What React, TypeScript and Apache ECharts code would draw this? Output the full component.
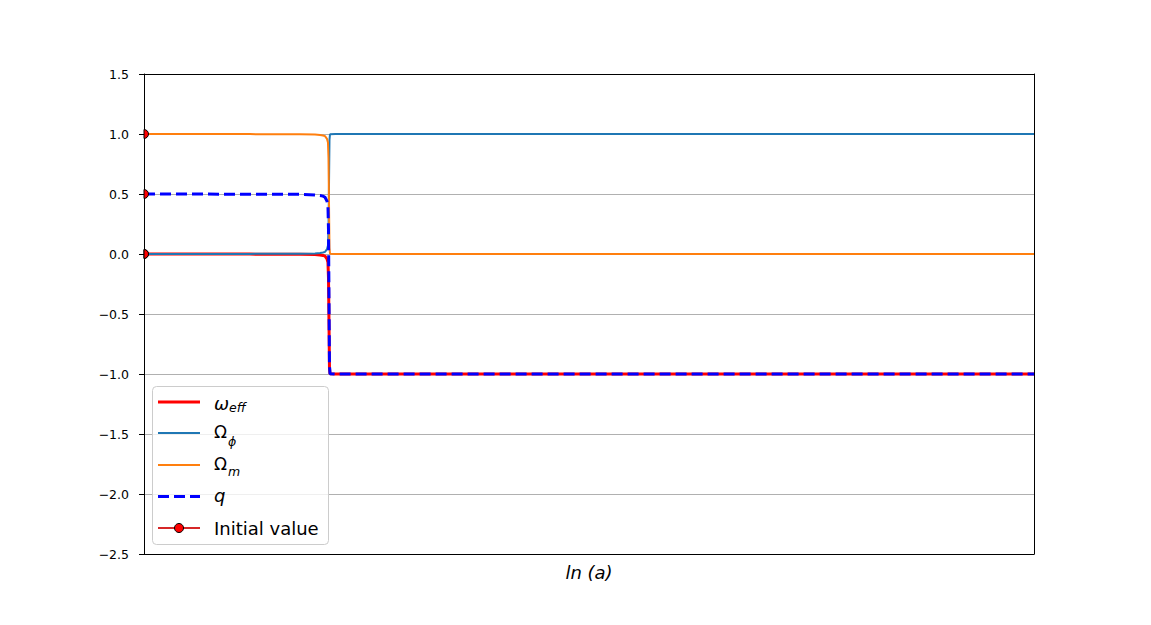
import React, { useEffect, useRef } from 'react';
import * as echarts from 'echarts';

// x values (ln a), arbitrary units — no tick labels are shown in the reference
const lnA = [0, 1.19, 1.753, 1.921, 1.978, 2.011, 2.034, 2.056, 2.067, 2.073, 2.079, 2.084, 2.09, 2.15, 10];
const omegaEff = [0, -0.001, -0.002, -0.005, -0.008, -0.012, -0.018, -0.04, -0.07, -0.2, -0.6, -0.95, -0.998, -1, -1];
const omegaPhi = [0, 0.001, 0.002, 0.005, 0.008, 0.012, 0.018, 0.04, 0.07, 0.2, 0.6, 0.95, 0.998, 1, 1];
const omegaM = [1.0, 0.999, 0.998, 0.995, 0.992, 0.988, 0.982, 0.96, 0.93, 0.8, 0.4, 0.05, 0.002, 0, 0];
const qVals = [0.5, 0.4985, 0.497, 0.4925, 0.488, 0.482, 0.473, 0.44, 0.395, 0.2, -0.4, -0.925, -0.997, -1, -1];
const initX = [0, 0, 0, 0];
const initY = [1.0, 0.5, 0.0, 0.0];
const yMin = -2.5;
const yMax = 1.5;
const yStep = 0.5;
const xMin = 0;
const xMax = 10;

const FONT = "'DejaVu Sans', sans-serif";

const pair = (xs: number[], ys: number[]) => xs.map((x, i) => [x, ys[i]]);

export default function App() {
  const ref = useRef<HTMLDivElement>(null);
  useEffect(() => {
    if (!ref.current) return;
    const chart = echarts.init(ref.current, undefined, { renderer: 'svg' });

    const rowY = [402, 433, 465, 496.5, 528];
    const lx0 = 158;
    const lx1 = 200;
    const tx = 214;
    const legendEls: any[] = [
      {
        type: 'rect',
        shape: { x: 152.5, y: 386.5, width: 176, height: 158, r: 4 },
        style: { fill: 'rgba(255,255,255,0.8)', stroke: '#cccccc', lineWidth: 1 },
        z: 100,
      },
      { type: 'line', shape: { x1: lx0, y1: rowY[0], x2: lx1, y2: rowY[0] }, style: { stroke: '#ff0000', lineWidth: 3 }, z: 101 },
      { type: 'line', shape: { x1: lx0, y1: rowY[1], x2: lx1, y2: rowY[1] }, style: { stroke: '#1f77b4', lineWidth: 2 }, z: 101 },
      { type: 'line', shape: { x1: lx0, y1: rowY[2], x2: lx1, y2: rowY[2] }, style: { stroke: '#ff7f0e', lineWidth: 2 }, z: 101 },
      { type: 'line', shape: { x1: lx0, y1: rowY[3], x2: lx1, y2: rowY[3] }, style: { stroke: '#0000ff', lineWidth: 3, lineDash: [11, 5] }, z: 101 },
      { type: 'line', shape: { x1: lx0, y1: rowY[4], x2: lx1, y2: rowY[4] }, style: { stroke: '#d62728', lineWidth: 2 }, z: 101 },
      { type: 'circle', shape: { cx: (lx0 + lx1) / 2, cy: rowY[4], r: 4.5 }, style: { fill: '#ff0000', stroke: '#000', lineWidth: 1 }, z: 102 },
      // labels
      { type: 'text', x: tx, y: rowY[0] + 1, style: { text: 'ω', fontSize: 18, fontStyle: 'italic', fontFamily: FONT, fill: '#000', verticalAlign: 'middle' }, z: 101 },
      { type: 'text', x: 229, y: 407, style: { text: 'eff', fontSize: 12.5, fontStyle: 'italic', fontFamily: FONT, fill: '#000', verticalAlign: 'middle' }, z: 101 },
      { type: 'text', x: tx, y: 432, style: { text: 'Ω', fontSize: 17, fontFamily: FONT, fill: '#000', verticalAlign: 'middle' }, z: 101 },
      { type: 'text', x: 228, y: 441, style: { text: 'ϕ', fontSize: 12.5, fontStyle: 'italic', fontFamily: FONT, fill: '#000', verticalAlign: 'middle' }, z: 101 },
      { type: 'text', x: tx, y: 464, style: { text: 'Ω', fontSize: 17, fontFamily: FONT, fill: '#000', verticalAlign: 'middle' }, z: 101 },
      { type: 'text', x: 228, y: 471, style: { text: 'm', fontSize: 12.5, fontStyle: 'italic', fontFamily: FONT, fill: '#000', verticalAlign: 'middle' }, z: 101 },
      { type: 'text', x: tx, y: 495, style: { text: 'q', fontSize: 18, fontStyle: 'italic', fontFamily: FONT, fill: '#000', verticalAlign: 'middle' }, z: 101 },
      { type: 'text', x: tx, y: 528, style: { text: 'Initial value', fontSize: 18, fontFamily: FONT, fill: '#000', verticalAlign: 'middle' }, z: 101 },
    ];

    const fmt = (v: number) => (v < 0 ? '\u2212' : '') + Math.abs(v).toFixed(1);

    chart.setOption({
      animation: false,
      backgroundColor: '#ffffff',
      grid: { left: 144, right: 117, top: 74, bottom: 71, containLabel: false },
      xAxis: [
        {
          type: 'value', min: xMin, max: xMax, position: 'bottom',
          axisLine: { show: true, onZero: false, lineStyle: { color: '#000', width: 1 } },
          axisTick: { show: false }, axisLabel: { show: false }, splitLine: { show: false },
          name: 'ln (a)', nameLocation: 'middle', nameGap: 9,
          nameTextStyle: { fontStyle: 'italic', fontSize: 18, color: '#000', fontFamily: FONT, verticalAlign: 'top' },
        },
        {
          type: 'value', min: xMin, max: xMax, position: 'top',
          axisLine: { show: true, onZero: false, lineStyle: { color: '#000', width: 1 } },
          axisTick: { show: false }, axisLabel: { show: false }, splitLine: { show: false },
        },
      ],
      yAxis: [
        {
          type: 'value', min: yMin, max: yMax, interval: yStep, position: 'left',
          axisLine: { show: true, onZero: false, lineStyle: { color: '#000', width: 1 } },
          axisTick: { show: true, inside: false, length: 5, lineStyle: { color: '#000', width: 1 } },
          axisLabel: { formatter: fmt, fontSize: 12.5, color: '#000', fontFamily: FONT, margin: 15 },
          splitLine: { show: true, lineStyle: { color: '#b0b0b0', width: 1 } },
        },
        {
          type: 'value', min: yMin, max: yMax, interval: yStep, position: 'right',
          axisLine: { show: true, onZero: false, lineStyle: { color: '#000', width: 1 } },
          axisTick: { show: false }, axisLabel: { show: false }, splitLine: { show: false },
        },
      ],
      graphic: { elements: legendEls },
      series: [
        {
          name: 'ω_eff', type: 'line', data: pair(lnA, omegaEff), showSymbol: false, z: 3,
          lineStyle: { color: '#ff0000', width: 3 }, itemStyle: { color: '#ff0000' },
        },
        {
          name: 'Ω_ϕ', type: 'line', data: pair(lnA, omegaPhi), showSymbol: false, z: 4,
          lineStyle: { color: '#1f77b4', width: 2 }, itemStyle: { color: '#1f77b4' },
        },
        {
          name: 'Ω_m', type: 'line', data: pair(lnA, omegaM), showSymbol: false, z: 5,
          lineStyle: { color: '#ff7f0e', width: 2 }, itemStyle: { color: '#ff7f0e' },
        },
        {
          name: 'q', type: 'line', data: pair(lnA, qVals), showSymbol: false, z: 6,
          lineStyle: { color: '#0000ff', width: 3, type: [11, 5] }, itemStyle: { color: '#0000ff' },
        },
        {
          name: 'Initial value', type: 'custom', z: 7,
          data: pair(initX, initY),
          renderItem: (params: any, api: any) => {
            const p = api.coord([api.value(0), api.value(1)]);
            return {
              type: 'sector',
              shape: { cx: p[0], cy: p[1], r: 4.5, r0: 0, startAngle: -Math.PI / 2, endAngle: Math.PI / 2 },
              style: { fill: '#ff0000', stroke: '#000', lineWidth: 1 },
            };
          },
        },
      ],
    });
    return () => chart.dispose();
  }, []);
  return (
    <div
      ref={ref}
      style={{ position: 'fixed', left: 0, top: 0, width: 1151, height: 625, background: '#fff' }}
    />
  );
}
